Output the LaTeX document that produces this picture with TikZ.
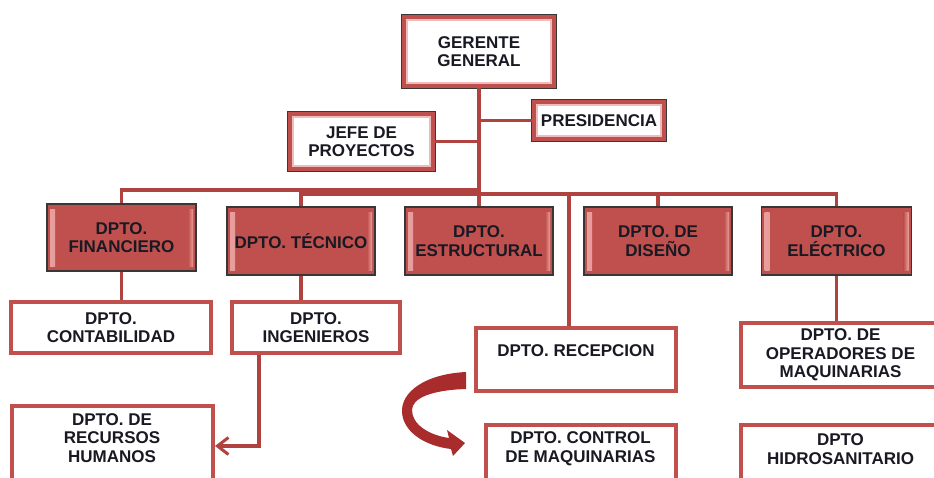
\documentclass[tikz,border=0pt]{standalone}
\usepackage{fontspec}
\setmainfont{Liberation Sans}
\usetikzlibrary{positioning,arrows.meta}
\definecolor{boxred}{RGB}{192,80,77}
\definecolor{linkred}{RGB}{176,66,63}
\definecolor{rimgray}{RGB}{55,55,55}
\definecolor{rimpink}{RGB}{232,160,158}
\definecolor{curvered}{RGB}{168,44,44}
\definecolor{inkgray}{RGB}{25,25,35}

\begin{document}
\begin{tikzpicture}[x=1pt, y=-1pt,
  title/.style={font=\fontsize{17}{18.5}\selectfont\bfseries, text=inkgray, align=center, inner sep=0pt},
  headbox/.style={title, draw=boxred, line width=4pt, fill=white,
    preaction={draw=rimgray, line width=5.6pt},
    path picture={\draw[rimpink!70!white, line width=1.5pt] ([shift={(2.8pt,-2.8pt)}]path picture bounding box.north west) rectangle ([shift={(-2.8pt,2.8pt)}]path picture bounding box.south east);}},
  deptbox/.style={title, fill=boxred, draw=rimgray, line width=1.5pt, minimum width=148pt, minimum height=68pt,
    path picture={
      \shade[left color=rimpink, right color=boxred] ([shift={(3pt,-5pt)}]path picture bounding box.north west) rectangle ([shift={(8pt,5pt)}]path picture bounding box.south west);
      \shade[left color=boxred, right color=rimpink] ([shift={(-8pt,-5pt)}]path picture bounding box.north east) rectangle ([shift={(-3pt,5pt)}]path picture bounding box.south east);}},
  unitbox/.style={title, draw=boxred, line width=4pt, fill=white},
  link/.style={draw=linkred, line width=3.5pt},
  linkarr/.style={link, -{Straight Barb[length=11pt, width=17pt, line width=3pt]}}
]
\useasboundingbox (0,0) rectangle (934,477);
\clip (0,0) rectangle (934,477);

% top of the chart
\node[headbox, minimum width=150pt, minimum height=69pt] (gerente) at (479,51.5) {GERENTE\\GENERAL};
\node[headbox, minimum width=130pt, minimum height=37pt] (pres) at (599,120.5) {PRESIDENCIA};
\node[headbox, minimum width=143pt, minimum height=55pt] (jefe) at (361.5,141.5) {JEFE DE\\PROYECTOS};

% departments
\node[deptbox, minimum width=149pt, minimum height=67pt] (fin) at (121.5,237.5) {DPTO.\\FINANCIERO};
\node[deptbox] (tec) at (301,241) {DPTO. TÉCNICO};
\node[deptbox] (est) at (479,241) {DPTO.\\ESTRUCTURAL};
\node[deptbox] (dis) at (658,241) {DPTO. DE\\DISEÑO};
\node[deptbox, minimum width=150pt] (ele) at (836.5,241) {DPTO.\\ELÉCTRICO};

% units
\node[unitbox, minimum width=200pt, minimum height=51pt] (conta) at (111,327.5) {DPTO.\\CONTABILIDAD};
\node[unitbox, minimum width=168pt, minimum height=51pt] (inge) at (316,327.5) {DPTO.\\INGENIEROS};
\node[unitbox, minimum width=200pt, minimum height=63pt] (recep) at (576,359.5) {};
\node[title, below=18pt of recep.north] (receptxt) {DPTO. RECEPCION};
\node[unitbox, minimum width=240pt, minimum height=64pt] (oper) at (861,355) {};
\node[title] (opertxt) at (840.5,355) {DPTO. DE\\OPERADORES DE\\MAQUINARIAS};
\node[unitbox, minimum width=201pt, minimum height=120pt] (rrhh) at (112.5,466) {};
\node[title] (rrhhtxt) at (112,438) {DPTO. DE\\RECURSOS\\HUMANOS};
\node[unitbox, minimum width=190pt, minimum height=120pt] (control) at (581,485) {};
\node[title] (controltxt) at (580.5,448.5) {DPTO. CONTROL\\DE MAQUINARIAS};
\node[unitbox, minimum width=240pt, minimum height=120pt] (hidro) at (861,485) {};
\node[title] (hidrotxt) at (840.5,449) {DPTO\\HIDROSANITARIO};

% connectors
\coordinate (busA) at (479,190);
\coordinate (busB) at (479,194);
\draw[link] (gerente.south) -- (est.north);
\draw[link] (jefe.east) -- (jefe.east -| gerente.south);
\draw[link] (pres.west) -- (pres.west -| gerente.south);
\draw[link] (fin.north) |- (busA);
\draw[link] (tec.north) |- (busB);
\draw[link] (ele.north) |- (busB);
\draw[link] (dis.north) -- (dis.north |- busB);
\draw[link] ([xshift=-7pt]recep.north) |- (busB);
\draw[link] (fin.south) -- (fin.south |- conta.north);
\draw[link] (tec.south) -- (tec.south |- inge.north);
\draw[link] (ele.south) -- (ele.south |- oper.north);
\draw[linkarr] ([xshift=-57pt]inge.south) |- (rrhh.east |- 0,446);

% curved arrow from recepcion to control
\fill[curvered] (466,372) .. controls (425,374) and (401,392) .. (402,412)
  .. controls (403,432) and (425,446) .. (451,449) -- (453,456) -- (465,443) -- (447,430)
  -- (449,438) .. controls (428,435) and (412,424) .. (412,410)
  .. controls (412,398) and (432,390) .. (466,389) -- cycle;
\end{tikzpicture}
\end{document}
